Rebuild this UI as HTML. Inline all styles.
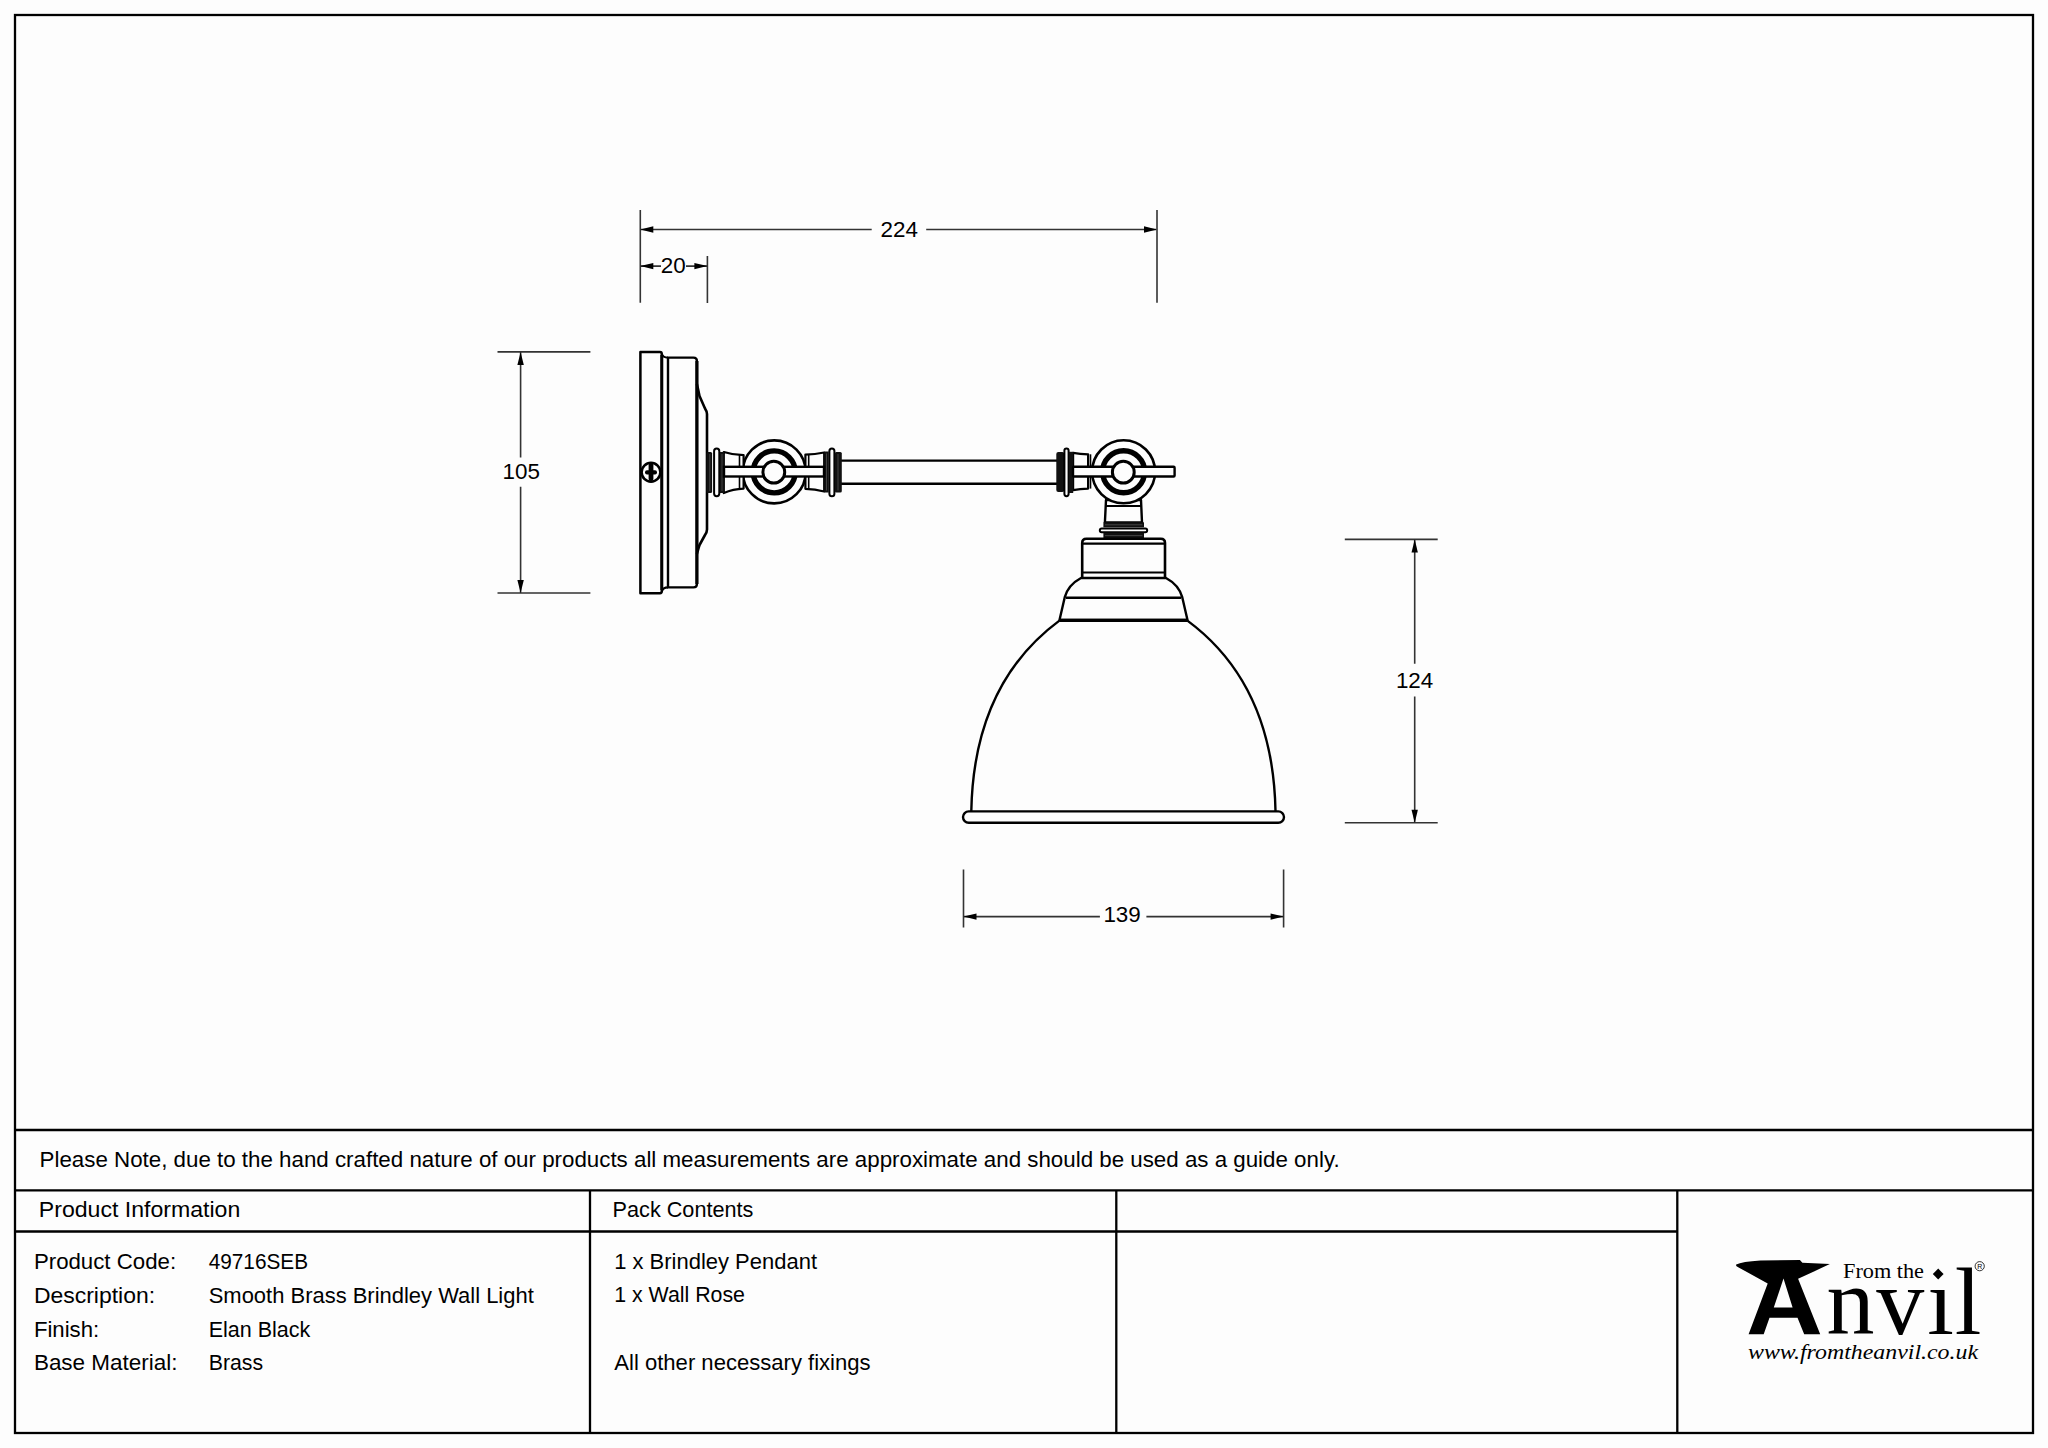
<!DOCTYPE html>
<html><head><meta charset="utf-8"><title>Brindley Wall Light</title>
<style>
html,body{margin:0;padding:0;background:#fdfdfd;}
body{width:2048px;height:1448px;overflow:hidden;font-family:"Liberation Sans",sans-serif;}
svg{display:block;}
</style></head><body>
<svg width="2048" height="1448" viewBox="0 0 2048 1448">
<rect width="2048" height="1448" fill="#fdfdfd"/>
<rect x="15" y="15" width="2018" height="1418" fill="none" stroke="#000" stroke-width="2.3"/>
<path d="M15 1130H2033M15 1190.3H2033M15 1231.5H1677.3M590 1190.3V1433M1116.3 1190.3V1433M1677.3 1190.3V1433" stroke="#000" stroke-width="2.3" fill="none"/>
<text x="39.6" y="1167.3" font-family="Liberation Sans" font-size="21.5" textLength="1300.0" lengthAdjust="spacingAndGlyphs" >Please Note, due to the hand crafted nature of our products all measurements are approximate and should be used as a guide only.</text>
<text x="38.8" y="1217" font-family="Liberation Sans" font-size="21.5" textLength="201.5" lengthAdjust="spacingAndGlyphs" >Product Information</text>
<text x="612.6" y="1217.3" font-family="Liberation Sans" font-size="21.5" textLength="140.8" lengthAdjust="spacingAndGlyphs" >Pack Contents</text>
<text x="33.9" y="1269.3" font-family="Liberation Sans" font-size="21.5" textLength="142.2" lengthAdjust="spacingAndGlyphs" >Product Code:</text>
<text x="208.7" y="1269.3" font-family="Liberation Sans" font-size="21.5" textLength="99.4" lengthAdjust="spacingAndGlyphs" >49716SEB</text>
<text x="33.9" y="1303" font-family="Liberation Sans" font-size="21.5" textLength="121.2" lengthAdjust="spacingAndGlyphs" >Description:</text>
<text x="208.7" y="1303" font-family="Liberation Sans" font-size="21.5" textLength="325.1" lengthAdjust="spacingAndGlyphs" >Smooth Brass Brindley Wall Light</text>
<text x="33.9" y="1336.7" font-family="Liberation Sans" font-size="21.5" textLength="65.3" lengthAdjust="spacingAndGlyphs" >Finish:</text>
<text x="208.7" y="1336.7" font-family="Liberation Sans" font-size="21.5" textLength="101.6" lengthAdjust="spacingAndGlyphs" >Elan Black</text>
<text x="33.9" y="1370.4" font-family="Liberation Sans" font-size="21.5" textLength="143.6" lengthAdjust="spacingAndGlyphs" >Base Material:</text>
<text x="208.7" y="1370.4" font-family="Liberation Sans" font-size="21.5" textLength="54.4" lengthAdjust="spacingAndGlyphs" >Brass</text>
<text x="614.2" y="1268.9" font-family="Liberation Sans" font-size="21.5" textLength="202.8" lengthAdjust="spacingAndGlyphs" >1 x Brindley Pendant</text>
<text x="614.2" y="1302.4" font-family="Liberation Sans" font-size="21.5" textLength="130.8" lengthAdjust="spacingAndGlyphs" >1 x Wall Rose</text>
<text x="614.3" y="1370.1" font-family="Liberation Sans" font-size="21.5" textLength="256.3" lengthAdjust="spacingAndGlyphs" >All other necessary fixings</text>
<path d="M640.3 210V302.7M1157 210V302.7M641 229.5H871.7M926.2 229.5H1156" stroke="#333" stroke-width="1.6" fill="none"/>
<path d="M640.3 229.5L653.30 226.30L653.30 232.70Z" fill="#000"/>
<path d="M1157 229.5L1144.00 232.70L1144.00 226.30Z" fill="#000"/>
<text x="899.3" y="236.8" font-family="Liberation Sans" font-size="22.4" text-anchor="middle">224</text>
<path d="M707.4 256V303M641 266.1H661M686 266.1H707" stroke="#333" stroke-width="1.6" fill="none"/>
<path d="M640.3 266.1L653.30 262.90L653.30 269.30Z" fill="#000"/>
<path d="M707.4 266.1L694.40 269.30L694.40 262.90Z" fill="#000"/>
<text x="673.2" y="273" font-family="Liberation Sans" font-size="22.4" text-anchor="middle">20</text>
<path d="M497.5 351.9H590.4M497.5 593H590.4M520.6 352V457.4M520.6 486.8V593" stroke="#333" stroke-width="1.6" fill="none"/>
<path d="M520.6 351.9L523.80 364.90L517.40 364.90Z" fill="#000"/>
<path d="M520.6 593L517.40 580.00L523.80 580.00Z" fill="#000"/>
<text x="521.2" y="479.3" font-family="Liberation Sans" font-size="22.4" text-anchor="middle">105</text>
<path d="M1344.8 539.4H1437.7M1344.8 822.8H1437.7M1414.7 540V663.7M1414.7 696.4V822" stroke="#333" stroke-width="1.6" fill="none"/>
<path d="M1414.7 539.4L1417.90 552.40L1411.50 552.40Z" fill="#000"/>
<path d="M1414.7 822.8L1411.50 809.80L1417.90 809.80Z" fill="#000"/>
<text x="1414.6" y="687.6" font-family="Liberation Sans" font-size="22.4" text-anchor="middle">124</text>
<path d="M963.5 869.4V927.4M1283.6 869.4V927.4M964 916.6H1099.9M1146.4 916.6H1283" stroke="#333" stroke-width="1.6" fill="none"/>
<path d="M963.5 916.6L976.50 913.40L976.50 919.80Z" fill="#000"/>
<path d="M1283.6 916.6L1270.60 919.80L1270.60 913.40Z" fill="#000"/>
<text x="1122.1" y="922" font-family="Liberation Sans" font-size="22.4" text-anchor="middle">139</text>
<path d="M640.4 351.9H660Q661.8 351.9 661.8 354V591Q661.8 593.2 660 593.2H640.4Z" stroke="#000" stroke-width="2.5" fill="#fdfdfd" stroke-linejoin="round" />
<path d="M661.8 354Q663 357.6 668 357.6M661.8 591.5Q663 587.4 668 587.4" stroke="#000" stroke-width="2.2" fill="none" stroke-linejoin="round" />
<path d="M668 357.6H693.5Q696.9 357.6 696.9 361V584Q696.9 587.4 693.5 587.4H668Z" stroke="#000" stroke-width="2.4" fill="#fdfdfd" stroke-linejoin="round" />
<path d="M696.9 361V584" stroke="#000" stroke-width="3.2" fill="none" stroke-linejoin="round" />
<path d="M661.8 355V590" stroke="#000" stroke-width="2.9" fill="none" stroke-linejoin="round" />
<path d="M696.9 384Q698.5 391 699.5 396L705 408.5Q707 411.5 707 414V529.5Q707 532 705 535L699.5 545Q698.5 548 696.9 554" stroke="#000" stroke-width="2.6" fill="none" stroke-linejoin="round" />
<circle cx="651" cy="472.3" r="9.4" fill="#fdfdfd" stroke="#000" stroke-width="2.6"/>
<rect x="648.6" y="463.5" width="4.8" height="17.6" rx="2" fill="#000"/>
<rect x="645" y="470.2" width="12" height="4.2" rx="2" fill="#000"/>
<path d="M841 460.6H1057M841 483.8H1057" stroke="#000" stroke-width="2.4" fill="none" stroke-linejoin="round" />
<circle cx="774.2" cy="471.9" r="31.5" fill="#fdfdfd" stroke="#000" stroke-width="2.6"/>
<circle cx="774.2" cy="471.9" r="21" fill="none" stroke="#000" stroke-width="5.4"/>
<path d="M723.8 452Q733 455 743.6 455.2V488.6Q733 489 723.8 493Z" stroke="#000" stroke-width="2.2" fill="#fdfdfd" stroke-linejoin="round" />
<path d="M739.5 455V489" stroke="#000" stroke-width="1.6" fill="none" stroke-linejoin="round" />
<path d="M805.4 454.6Q815 454.5 824.2 452.5V491.5Q815 489 805.4 488.8Z" stroke="#000" stroke-width="2.2" fill="#fdfdfd" stroke-linejoin="round" />
<path d="M808.7 454.6V489" stroke="#000" stroke-width="1.6" fill="none" stroke-linejoin="round" />
<rect x="706.5" y="452" width="5.6" height="41" rx="1.5" fill="#111"/>
<rect x="714.1" y="448.6" width="5.2" height="47.6" rx="2.6" fill="#fdfdfd" stroke="#000" stroke-width="2"/>
<rect x="720" y="452" width="4" height="41" fill="#111"/>
<rect x="824.3" y="451.5" width="4.4" height="41" fill="#111"/>
<rect x="829.4" y="448.4" width="5" height="47.8" rx="2.5" fill="#fdfdfd" stroke="#000" stroke-width="2"/>
<rect x="834.8" y="452" width="7" height="40.4" rx="1.5" fill="#111"/>
<path d="M709.8 454V491" stroke="#4a4a4a" stroke-width="0.9"/>
<path d="M722 454V491" stroke="#4a4a4a" stroke-width="0.9"/>
<path d="M826.5 453.5V490.5" stroke="#4a4a4a" stroke-width="0.9"/>
<path d="M838 454V490.5" stroke="#4a4a4a" stroke-width="0.9"/>
<path d="M1061.2 454V490" stroke="#4a4a4a" stroke-width="0.9"/>
<path d="M1070.8 454V491" stroke="#4a4a4a" stroke-width="0.9"/>
<rect x="724" y="466.8" width="100" height="9.7" fill="#fdfdfd" stroke="#000" stroke-width="2.4"/>
<circle cx="773.8" cy="472.2" r="10.9" fill="#fdfdfd" stroke="#000" stroke-width="3"/>
<path d="M1106 500L1104.9 522.5H1142L1141 500Z" stroke="#000" stroke-width="2.4" fill="#fdfdfd" stroke-linejoin="round" />
<path d="M1106 506H1141" stroke="#000" stroke-width="2.2" fill="none" stroke-linejoin="round" />
<circle cx="1123.6" cy="471.8" r="31.5" fill="#fdfdfd" stroke="#000" stroke-width="2.6"/>
<circle cx="1123.6" cy="471.8" r="21" fill="none" stroke="#000" stroke-width="5.4"/>
<path d="M1073.1 452.9Q1080 454 1088.1 454.3V488.6Q1080 489 1073.1 490.2Z" stroke="#000" stroke-width="2.2" fill="#fdfdfd" stroke-linejoin="round" />
<path d="M1090.5 454.3V488.6" stroke="#000" stroke-width="1.6" fill="none" stroke-linejoin="round" />
<rect x="1056.3" y="452" width="8" height="40" rx="2" fill="#111"/>
<rect x="1064.4" y="448.4" width="4.2" height="47.8" rx="2.1" fill="#fdfdfd" stroke="#000" stroke-width="2"/>
<rect x="1068.8" y="451.8" width="4.4" height="41.2" fill="#111"/>
<rect x="1073" y="466.8" width="101.6" height="9.7" rx="1" fill="#fdfdfd" stroke="#000" stroke-width="2.4"/>
<circle cx="1123.3" cy="472.2" r="10.9" fill="#fdfdfd" stroke="#000" stroke-width="3"/>
<rect x="1103.4" y="522.3" width="40.6" height="5" fill="#111"/>
<rect x="1099.8" y="528.4" width="47.4" height="3.8" rx="1.9" fill="#fdfdfd" stroke="#000" stroke-width="2"/>
<rect x="1103.4" y="532.6" width="40.6" height="6" fill="#111"/>
<path d="M1105 524.8H1142.4M1105 535.6H1142.4" stroke="#4a4a4a" stroke-width="0.9"/>
<path d="M1082.2 577V543Q1082.2 538.8 1086.4 538.8H1160.8Q1165 538.8 1165 543V577" stroke="#000" stroke-width="2.6" fill="#fdfdfd" stroke-linejoin="round" />
<path d="M1083 543.6H1164.5M1083 572.5H1164.5" stroke="#000" stroke-width="2.2" fill="none" stroke-linejoin="round" />
<path d="M1081 578Q1068 585 1064.7 597.4L1059.5 620H1187.5L1182.3 597.4Q1179 585 1166 578Z" stroke="#000" stroke-width="2.4" fill="#fdfdfd" stroke-linejoin="round" />
<path d="M1066 597.8H1181" stroke="#000" stroke-width="2.4" fill="none" stroke-linejoin="round" />
<path d="M1059.5 620.3H1187.5" stroke="#000" stroke-width="3.2" fill="none" stroke-linejoin="round" />
<path d="M1059.4 620.6C994.2 668.8 972.7 739 971.3 811M1187.4 620.6C1252.6 668.8 1274.1 739 1275.5 811" stroke="#000" stroke-width="2.4" fill="none" stroke-linejoin="round" />
<rect x="963" y="811.4" width="321" height="11.4" rx="5.7" fill="#fdfdfd" stroke="#000" stroke-width="2.4"/>
<path d="M1736.2 1264.6Q1742 1261.6 1760.4 1260.5L1799.9 1260.1L1802.4 1262.8L1829.9 1264.1Q1812 1272.5 1798.1 1278.7L1820.2 1334.2H1804.2L1797.5 1317.7H1769.5L1763.7 1334.2H1748.6L1767.7 1283.6L1738.2 1267.2Q1735.4 1265.8 1736.2 1264.6Z M1783.5 1278.6L1773.8 1307.4H1792.6Z" fill="#000" fill-rule="evenodd"/>
<text y="1334.4" font-family="Liberation Serif" font-size="96"><tspan x="1826.6">n</tspan><tspan x="1876.2">v</tspan><tspan x="1927.3">&#305;</tspan><tspan x="1954.8">l</tspan></text>
<text x="1843" y="1278" font-family="Liberation Serif" font-size="21.5" textLength="81" lengthAdjust="spacingAndGlyphs">From the</text>
<path d="M1938.2 1268.6L1943.6 1274.1L1938.2 1279.6L1932.8 1274.1Z" fill="#000"/>
<circle cx="1979.7" cy="1266.2" r="4.6" fill="none" stroke="#000" stroke-width="0.8"/><text x="1979.7" y="1268.8" font-family="Liberation Sans" font-size="7" text-anchor="middle">R</text>
<text x="1748" y="1358.5" font-family="Liberation Serif" font-style="italic" font-size="21" textLength="230" lengthAdjust="spacingAndGlyphs">www.fromtheanvil.co.uk</text>
</svg>
</body></html>
